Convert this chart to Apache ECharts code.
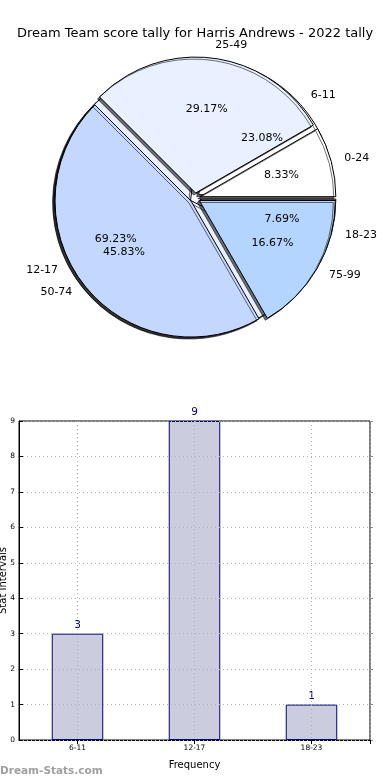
<!DOCTYPE html>
<html><head><meta charset="utf-8">
<script src="https://cdn.jsdelivr.net/npm/echarts@6/dist/echarts.min.js"></script>
<style>html,body{margin:0;padding:0;background:#fff}#c{width:390px;height:780px}</style>
</head><body><div id="c"></div>
<script>
const pieANames = ['0-24','25-49','50-74','75-99'];
const pieAValues = [2,7,11,4];
const pieBNames = ['6-11','12-17','18-23'];
const pieBValues = [3,9,1];
const barCategories = ['6-11','12-17','18-23'];
const barValues = [3,9,1];
const yTicks = [0,1,2,3,4,5,6,7,8,9];
const pieColors = ['#ffffff','#e9f0ff','#c4d8ff','#b4d5ff'];

const FONT = 'DejaVu Sans';
const C = ['50%', 198];
const R = 136;

function pieData(names, values, transparent){
  return names.map((n,i)=>({name:n, value:values[i], selected:true,
    itemStyle: transparent ? {color:'rgba(0,0,0,0)', borderWidth:0, shadowColor:'rgba(0,0,0,0)'} : {color:pieColors[i]}}));
}
function mainPie(names, values, z){
  return {type:'pie', z:z, center:C, radius:R, startAngle:0, clockwise:false,
    selectedMode:'multiple', selectedOffset:5, silent:true, animation:false,
    avoidLabelOverlap:false, minShowLabelAngle:0,
    itemStyle:{borderColor:'#000', borderWidth:1, shadowColor:'rgba(0,0,0,0.55)', shadowBlur:0, shadowOffsetX:-2, shadowOffsetY:2},
    label:{show:true, position:'outside', formatter:'{b}', color:'#000', fontFamily:FONT, fontSize:11, distanceToLabelLine:0},
    labelLine:{show:false, length:R*0.1, length2:0},
    emphasis:{disabled:true},
    data:pieData(names, values, false)};
}
function pctPie(names, values, z){
  return {type:'pie', z:z, center:C, radius:R*1.2, startAngle:0, clockwise:false,
    selectedMode:'multiple', selectedOffset:5, silent:true, animation:false,
    avoidLabelOverlap:false, minShowLabelAngle:0,
    label:{show:true, position:'inner', formatter:'{d}%', color:'#000', fontFamily:FONT, fontSize:11},
    labelLine:{show:false}, emphasis:{disabled:true},
    data:pieData(names, values, true)};
}
const halfCats = barCategories.flatMap(c => [c + '_l', c + '_r']);
const atCentre = (i) => i % 2 === 1;
const dotted = {color:'#b0b0b0', type:[1,3]};

const chart = echarts.init(document.getElementById('c'), null, {renderer:'canvas'});
chart.setOption({
  animation:false,
  backgroundColor:'#fff',
  title:{text:'Dream Team score tally for Harris Andrews - 2022 tally', left:'center', top:22,
    textStyle:{fontFamily:FONT, fontSize:13, fontWeight:'normal', color:'#000'}},
  grid:{left:19, right:20, top:421, bottom:40, show:true, borderColor:'#000', borderWidth:1,
    backgroundColor:'transparent', containLabel:false, outerBoundsMode:'none'},
  xAxis:[{type:'category', data:barCategories, position:'bottom',
    name:'Frequency', nameLocation:'middle', nameGap:20, nameMoveOverlap:false,
    nameTextStyle:{fontFamily:FONT, fontSize:10, color:'#000'},
    axisLine:{show:true, lineStyle:{color:'#000'}},
    axisTick:{show:true, inside:true, alignWithLabel:true, interval:0, length:4, lineStyle:{color:'#000'}},
    axisLabel:{fontFamily:FONT, fontSize:7.5, color:'#000', margin:4},
    splitLine:{show:false}},
   {type:'category', data:halfCats, position:'top', z:3, axisLine:{show:false},
    axisTick:{show:true, inside:true, interval:atCentre, length:4, lineStyle:{color:'#000'}},
    axisLabel:{show:false},
    splitLine:{show:true, interval:atCentre, lineStyle:dotted}}],
  yAxis:[{type:'value', min:yTicks[0], max:yTicks[yTicks.length-1], interval:1, position:'left', z:3,
    name:'Stat Intervals', nameLocation:'middle', nameGap:11, nameRotate:90, nameMoveOverlap:false,
    nameTextStyle:{fontFamily:FONT, fontSize:10, color:'#000'},
    axisLine:{show:true, lineStyle:{color:'#000'}},
    axisTick:{show:true, inside:true, length:4, lineStyle:{color:'#000'}},
    axisLabel:{fontFamily:FONT, fontSize:7.5, color:'#000', margin:4},
    splitLine:{show:true, lineStyle:dotted}},
   {type:'value', min:yTicks[0], max:yTicks[yTicks.length-1], interval:1, position:'right',
    axisLine:{show:false}, axisTick:{show:true, inside:false, length:3, lineStyle:{color:'#888'}},
    axisLabel:{show:false}, splitLine:{show:false}}],
  graphic:[{type:'text', left:0, bottom:3, style:{text:'Dream-Stats.com', fontFamily:FONT, fontSize:10.5, fontWeight:'bold', fill:'#a0a0a0'}}],
  series:[
    mainPie(pieBNames, pieBValues, 2),
    mainPie(pieANames, pieAValues, 3),
    pctPie(pieBNames, pieBValues, 4),
    pctPie(pieANames, pieAValues, 5),
    {type:'bar', xAxisIndex:0, yAxisIndex:0, data:barValues, barWidth:'44%',
     itemStyle:{color:'#ccccdf', borderColor:'#000080', borderWidth:1},
     label:{show:true, position:'top', distance:3, color:'#000080', fontFamily:FONT, fontSize:10.5},
     emphasis:{disabled:true}}
  ]
});
</script></body></html>
